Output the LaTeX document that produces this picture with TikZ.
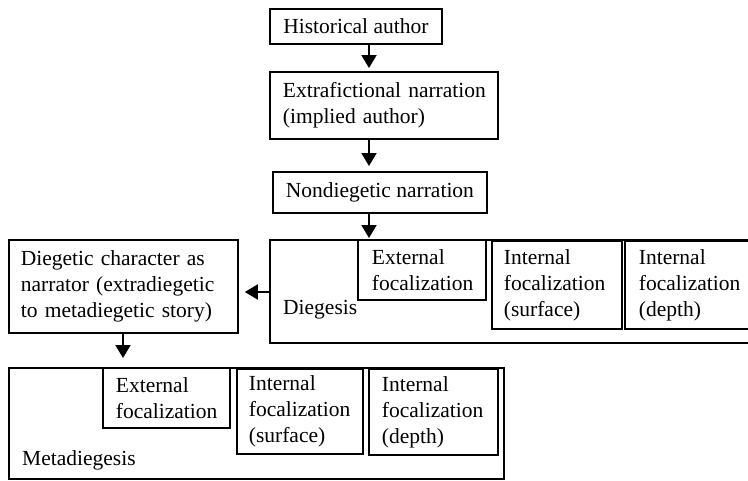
\documentclass[tikz,border=0pt]{standalone}
\usepackage{fontspec}
\setmainfont{Liberation Serif}
\usetikzlibrary{arrows.meta}
\newcommand\fsz{\fontsize{21.5}{26}\selectfont}
\begin{document}
\begin{tikzpicture}[x=1pt,y=1pt,
  box/.style={draw, line width=1.8pt, inner xsep=13pt, inner ysep=0pt, anchor=north west, align=left, font=\fsz},
  lbl/.style={inner sep=0pt, anchor=west, font=\fsz},
  arr/.style={-{Triangle[width=15pt,length=13pt]}, line width=2pt}]
\useasboundingbox (0,0) rectangle (748,-480);
% top chain
\node[box, align=center, minimum width=172pt, minimum height=35pt] (hist) at (269,-8) {Historical author};
\node[box, text width=202pt, minimum width=228pt, minimum height=67pt] (extra) at (269,-71) {\mbox{Extrafictional narration}\\(implied author)};
\node[box, align=center, minimum width=213pt, minimum height=41pt] (nondieg) at (272,-171) {Nondiegetic narration};
% diegesis
\node[box, minimum width=490pt, minimum height=103pt] (dieg) at (269,-239) {};
\node[lbl] (diegl) at (283,-310) {Diegesis};
\node[box, text width=100pt, inner xsep=14pt, minimum width=128pt, minimum height=60pt] (ext1) at (357,-239) {External\\focalization};
\node[box, text width=106pt, inner xsep=12pt, minimum width=130pt, minimum height=88pt] (ints1) at (491,-240) {Internal\\focalization\\(surface)};
\node[box, text width=96pt, inner xsep=14pt, minimum width=123pt, minimum height=88pt] (intd1) at (624,-240) {Internal\\focalization\\(depth)};
% character
\node[box, text width=205pt, inner xsep=12pt, minimum width=229pt, minimum height=93pt] (char) at (8,-239)
  {\makebox[205pt][s]{Diegetic character as}\\
   \makebox[205pt][s]{narrator (extradiegetic}\\
   \makebox[205pt][s]{to metadiegetic story)}};
% metadiegesis
\node[box, minimum width=495pt, minimum height=111pt] (meta) at (8,-367) {};
\node[lbl] (metal) at (22,-460) {Metadiegesis};
\node[box, text width=101pt, minimum width=127pt, minimum height=60pt] (ext2) at (102,-367) {External\\focalization};
\node[box, text width=102pt, inner xsep=12pt, minimum width=126pt, minimum height=85pt] (ints2) at (236,-368) {Internal\\focalization\\(surface)};
\node[box, text width=103pt, minimum width=129pt, minimum height=86pt] (intd2) at (368,-368) {Internal\\focalization\\(depth)};
% arrows
\coordinate (ax) at (369,0);
\coordinate (ay) at (0,-292);
\coordinate (bx) at (123,0);
\draw[arr, shorten >=3pt] (hist.south -| ax) -- (extra.north -| ax);
\draw[arr, shorten >=5pt] (extra.south -| ax) -- (nondieg.north -| ax);
\draw[arr, shorten >=1pt] (nondieg.south -| ax) -- (dieg.north -| ax);
\draw[arr, shorten >=6pt] (dieg.west |- ay) -- (char.east |- ay);
\draw[arr, shorten >=9pt] (char.south -| bx) -- (meta.north -| bx);
\end{tikzpicture}
\end{document}
